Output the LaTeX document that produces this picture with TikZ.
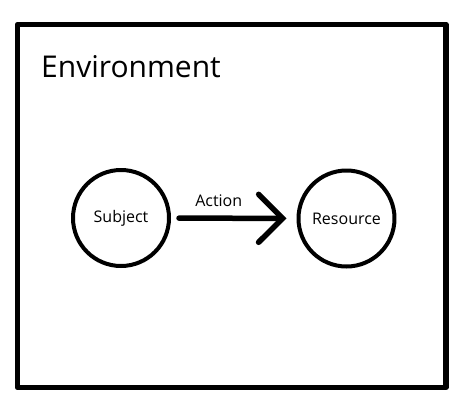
\documentclass[tikz,border=0pt]{standalone}
\usepackage{fontspec}
\setmainfont{Open Sans}
\usetikzlibrary{arrows.meta}

\tikzset{
  entity/.style={circle, draw, line width=4pt, minimum size=96pt, inner sep=0pt,
                 font=\fontsize{16}{19}\selectfont},
  flow/.style={line width=5.5pt, line cap=round,
               -{Straight Barb[length=24pt, width=48pt, line width=5.5pt, line cap=round]}},
}

\begin{document}
\begin{tikzpicture}[x=1pt, y=-1pt, line join=round]

  %% ════ 外框 ════
  \draw[line width=5.5pt] (17.5,24.5) rectangle (446,387.5);
  \node[anchor=base west, inner sep=0pt, font=\fontsize{30}{35}\selectfont] (envlabel) at (41,77) {Environment};

  %% ════ 两个圆 ════
  \node[entity] (subj) at (121,218) {Subject};
  \node[entity] (res)  at (346.5,218.5) {Resource};

  %% ════ 箭头 ════
  \draw[flow, shorten <=8pt, shorten >=10pt] (subj) -- (res)
    node[midway, above=9pt, xshift=-15pt, inner sep=0pt, font=\fontsize{16}{19}\selectfont] (actlabel) {Action};

  \pgfresetboundingbox
  \path[use as bounding box] (0,0) rectangle (467,418);
\end{tikzpicture}
\end{document}
